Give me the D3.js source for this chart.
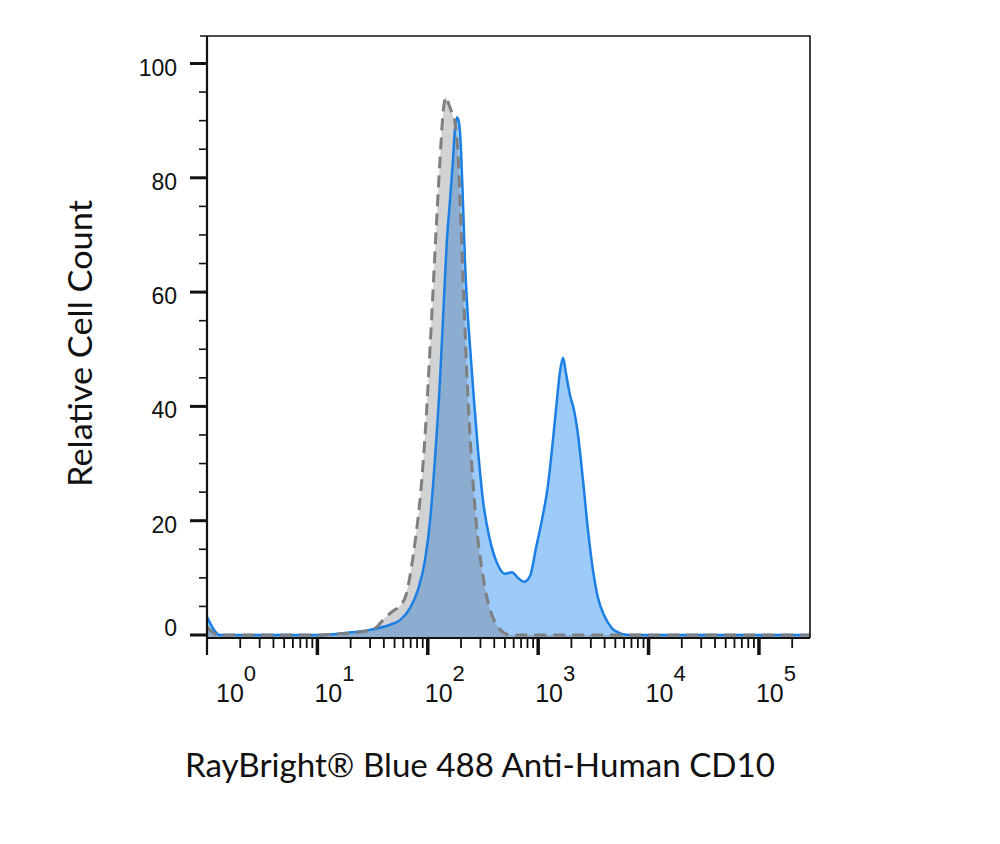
<!DOCTYPE html>
<html>
<head>
<meta charset="UTF-8">
<script src="https://d3js.org/d3.v7.min.js"></script>
<style>
  body { margin: 0; background: #fff; }
</style>
</head>
<body>
<svg id="canvas"></svg>
<script>

width = 1000;
height = 844;
plot = {left: 207, right: 810, top: 36, bottom: 638};

// unstained control (grey, dashed outline): CD10 intensity and relative count
controlX = [1, 1.26, 10.6, 16.0, 24.3, 33.3, 40.9, 48.4, 56.0, 63.5, 70.5, 78.2, 86.7, 96.4,
            107, 119, 129, 137, 146, 156, 166, 176, 188, 200, 213, 226, 241, 262, 285, 310,
            344, 390, 451, 556, 290000];
controlY = [1.4, 0, 0, 0.2, 0.5, 1.2, 3.0, 4.2, 5.1, 7.0, 11.4, 17.5, 25.4, 37.6,
            53.4, 70.9, 83.1, 91.0, 94.1, 92.7, 91.3, 89.8, 84.0, 71.7, 57.7, 45.5, 35.0, 24.5, 16.6, 11.4,
            6.5, 3.0, 1.0, 0, 0];

// stained sample (blue)
stainedX = [1, 1.31, 10.6, 17.8, 29.9, 45.5, 56.0, 69.0, 81.5, 94.4, 105, 116, 129, 140, 149,
            159, 169, 176, 184, 192, 200, 208, 217, 226, 241, 262, 285, 316, 366, 424, 500,
            579, 656, 743, 843, 955, 1081, 1227, 1361, 1479, 1574, 1679, 1786, 1941, 2109,
            2296, 2547, 2825, 3133, 3483, 3945, 4656, 5741, 6792, 290000];
stainedY = [3.2, 0, 0, 0.35, 0.9, 1.8, 2.6, 4.7, 7.9, 13.1, 20.1, 30.6, 44.6, 58.6, 69.1,
            76.1, 83.1, 88.4, 90.6, 89.6, 84.9, 76.1, 65.6, 58.6, 50.7, 41.1, 32.4, 23.6, 16.6, 12.6, 10.7,
            11.0, 10.0, 9.3, 10.3, 15.2, 20.1, 26.2, 34.1, 41.1, 46.0, 48.5, 45.8, 42.0, 39.4,
            35.0, 27.1, 18.4, 11.4, 6.5, 3.5, 1.2, 0.2, 0, 0];

yTicks = [0, 20, 40, 60, 80, 100];
yMinor = [5, 10, 15, 25, 30, 35, 45, 50, 55, 65, 70, 75, 85, 90, 95];
decades = [0, 1, 2, 3, 4, 5];
xMax = 290000;

xTitle = "RayBright\u00ae Blue 488 Anti-Human CD10";
yTitle = "Relative Cell Count";

control = controlX.map((d, i) => [d, controlY[i]]);
stained = stainedX.map((d, i) => [d, stainedY[i]]);

canvas = d3.select("#canvas")
    .attr("width", width)
    .attr("height", height);

x = d3.scaleLog().domain([1, xMax]).range([plot.left, plot.right]);
y = d3.scaleLinear().domain([0, 100]).range([635, 63.5]);

canvas.append("clipPath").attr("id", "clip")
  .append("rect")
    .attr("x", plot.left).attr("y", plot.top)
    .attr("width", plot.right - plot.left).attr("height", plot.bottom - plot.top);

area = d3.area()
    .x(d => x(d[0]))
    .y0(plot.bottom - 1)
    .y1(d => y(d[1]))
    .curve(d3.curveMonotoneX);

line = d3.line()
    .x(d => x(d[0]))
    .y(d => y(d[1]))
    .curve(d3.curveMonotoneX);

g = canvas.append("g").attr("clip-path", "url(#clip)");

g.append("path").datum(stained).attr("d", area)
    .attr("style", "fill:#9ccbfa; stroke:none;");
g.append("path").datum(control).attr("d", area)
    .attr("style", "fill:#666a70; fill-opacity:0.3; stroke:none;");
g.append("path").datum(stained).attr("d", line)
    .attr("style", "fill:none; stroke:#1b7fe3; stroke-width:2.5; stroke-linejoin:round;");
g.append("path").datum(control).attr("d", line)
    .attr("style", "fill:none; stroke:#7f7f7f; stroke-width:3; stroke-dasharray:12,7;");

// frame
canvas.append("path")
    .attr("d", "M" + 200 + "," + plot.top + "H" + plot.right + "V" + plot.bottom)
    .attr("style", "fill:none; stroke:#111; stroke-width:1.6;");
canvas.append("line")
    .attr("x1", plot.left).attr("x2", plot.right)
    .attr("y1", plot.bottom).attr("y2", plot.bottom)
    .attr("style", "stroke:#111; stroke-width:2;");
canvas.append("line")
    .attr("x1", plot.left).attr("x2", plot.left)
    .attr("y1", plot.top).attr("y2", 655)
    .attr("style", "stroke:#111; stroke-width:2.2;");

// y ticks
canvas.append("g").selectAll("line").data(yTicks).enter().append("line")
    .attr("x1", 190).attr("x2", plot.left)
    .attr("y1", d => y(d)).attr("y2", d => y(d))
    .attr("style", "stroke:#111; stroke-width:3;");
canvas.append("g").selectAll("line").data(yMinor).enter().append("line")
    .attr("x1", 199).attr("x2", plot.left)
    .attr("y1", d => y(d)).attr("y2", d => y(d))
    .attr("style", "stroke:#111; stroke-width:1.6;");
canvas.append("g").selectAll("text").data(yTicks).enter().append("text")
    .attr("x", 177)
    .attr("y", d => d === 0 ? y(d) + 1 : y(d) + 12)
    .attr("text-anchor", "end")
    .attr("style", "font-family:'Liberation Sans', Arial, sans-serif; font-size:23px; fill:#111;")
    .text(d => d);

// x ticks: decades thick, 2..9 thin
minor = [];
decades.forEach(function(p) {
    d3.range(2, 10).forEach(function(m) {
        v = m * Math.pow(10, p);
        if (v <= xMax) minor.push(v);
    });
});
canvas.append("g").selectAll("line").data(minor).enter().append("line")
    .attr("x1", d => x(d)).attr("x2", d => x(d))
    .attr("y1", plot.bottom).attr("y2", 648)
    .attr("style", "stroke:#111; stroke-width:1.8;");
canvas.append("g").selectAll("line").data(decades.slice(1)).enter().append("line")
    .attr("x1", d => x(Math.pow(10, d))).attr("x2", d => x(Math.pow(10, d)))
    .attr("y1", plot.bottom).attr("y2", 655)
    .attr("style", "stroke:#111; stroke-width:3.5;");

xl = canvas.append("g").selectAll("text").data(decades).enter().append("text")
    .attr("x", d => Math.max(x(Math.pow(10, d)) - 3, 216))
    .attr("y", 702)
    .attr("style", "font-family:'Liberation Sans', Arial, sans-serif; font-size:25px; fill:#111;");
xl.append("tspan").text("10");
xl.append("tspan")
    .attr("dy", -21)
    .attr("style", "font-size:22px;")
    .text(d => d);

// axis titles
canvas.append("text")
    .attr("x", 480).attr("y", 777)
    .attr("text-anchor", "middle")
    .attr("textLength", 590)
    .attr("lengthAdjust", "spacingAndGlyphs")
    .attr("style", "font-family:Lato, 'Open Sans', sans-serif; font-size:32px; fill:#111;")
    .text(xTitle);

canvas.append("text")
    .attr("transform", "translate(92,343.5) rotate(-90)")
    .attr("text-anchor", "middle")
    .attr("textLength", 287)
    .attr("lengthAdjust", "spacingAndGlyphs")
    .attr("style", "font-family:Lato, 'Open Sans', sans-serif; font-size:32px; fill:#111;")
    .text(yTitle);

</script>
</body>
</html>
